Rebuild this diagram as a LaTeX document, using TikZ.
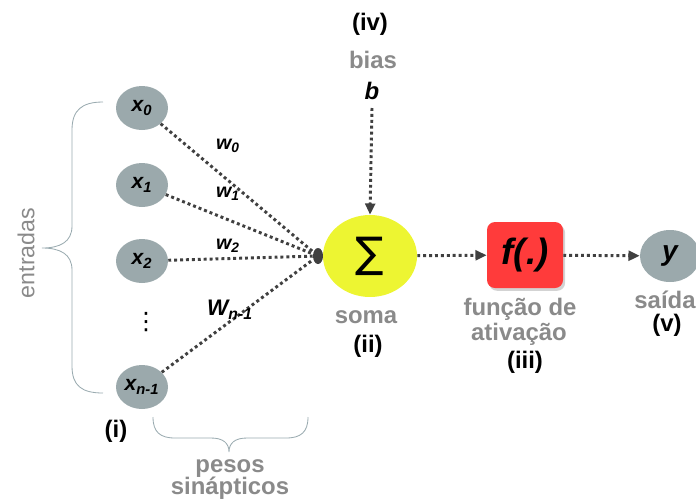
\documentclass[tikz,border=0pt]{standalone}
\usepackage{fontspec}
\setmainfont{Liberation Sans}
\newfontfamily\symfont{DejaVu Sans}
\usetikzlibrary{shapes.geometric,arrows.meta,shadows}
\definecolor{nodegrey}{HTML}{9BA9AC}
\definecolor{labelgrey}{HTML}{8A8A8A}
\definecolor{bracegrey}{HTML}{9AABB0}
\definecolor{linkgrey}{HTML}{404040}
\definecolor{sumyellow}{HTML}{EDF532}
\definecolor{actred}{HTML}{FF3B3B}

\def\pxu{0.025cm}  % one reference pixel

\tikzset{
  inputnode/.style={ellipse, fill=nodegrey, inner sep=0pt,
    minimum width=52*\pxu, minimum height=44*\pxu,
    font=\fontsize{15}{15}\selectfont\bfseries\itshape},
  greylbl/.style={text=labelgrey, anchor=base, inner sep=0pt,
    font=\fontsize{17}{17}\selectfont\bfseries},
  tag/.style={text=black, anchor=base, inner sep=0pt,
    font=\fontsize{17}{17}\selectfont\bfseries},
  wlbl/.style={inner sep=0pt, font=\fontsize{14}{14}\selectfont\bfseries\itshape},
  link/.style={draw=linkgrey, line width=2.1pt, dash pattern=on 2.1pt off 2.1pt},
  flow/.style={link, -{Triangle[length=8pt, width=7pt]}},
  brace/.style={draw=bracegrey, line width=0.6pt}
}

\begin{document}
\begin{tikzpicture}[x=\pxu, y=-\pxu]

  \useasboundingbox (0,0) rectangle (696,502);

  % === Inputs ===
  \node[inputnode] (x0) at (142,108) {x\textsubscript{0}};
  \node[inputnode] (x1) at (142,185) {x\textsubscript{1}};
  \node[inputnode] (x2) at (142,261) {x\textsubscript{2}};
  \node[inputnode] (xn) at (142,387) {x\textsubscript{n-1}};
  \node[inner sep=0pt, font=\fontsize{17}{17}\symfont] (dots) at (146,322) {⋮};

  % left brace
  \draw[brace] (103,102) .. controls (82,102) and (72,110) .. (72,130)
    -- (72,226) .. controls (72,242) and (60,248) .. (42,248)
    .. controls (60,248) and (72,254) .. (72,270)
    -- (72,366) .. controls (72,386) and (82,393) .. (103,393);
  \node[text=labelgrey, rotate=90, inner sep=0pt,
    font=\fontsize{16.5}{16.5}\selectfont] (inlbl) at (26,253) {entradas};

  % === Weights ===
  \node[fill=linkgrey, ellipse, inner sep=0pt, minimum width=10*\pxu,
    minimum height=16*\pxu] (junc) at (318,256) {};
  \foreach \n in {x0,x1,x2,xn}
    \draw[link] (\n) -- (junc);
  \node[wlbl] (w0) at (228,146) {w\textsubscript{0}};
  \node[wlbl] (w1) at (228,194) {w\textsubscript{1}};
  \node[wlbl] (w2) at (228,246) {w\textsubscript{2}};
  \node[wlbl, font=\fontsize{16}{16}\selectfont\bfseries\itshape] (wn) at (230,310) {W\textsubscript{n-1}};

  % bottom brace
  \draw[brace] (153,417) .. controls (153,432) and (160,438) .. (175,438)
    -- (211,438) .. controls (223,438) and (229,443) .. (229,452)
    .. controls (229,443) and (235,438) .. (247,438)
    -- (286,438) .. controls (301,438) and (308,432) .. (308,417);
  \node[greylbl] (wlbla) at (230,472) {pesos};
  \node[greylbl] (wlblb) at (230,494) {sinápticos};
  \node[tag] (tagi) at (116,437) {(i)};

  % === Sum and bias ===
  \node[ellipse, fill=sumyellow, inner sep=0pt, minimum width=94*\pxu,
    minimum height=82*\pxu, font=\fontsize{30}{30}\symfont] (sum) at (370,256) {∑};
  \node[inner sep=0pt, font=\fontsize{17}{17}\selectfont\bfseries\itshape] (b) at (372,91) {b};
  \node[greylbl] (biaslbl) at (373,68) {bias};
  \node[tag] (tagiv) at (370,30) {(iv)};
  \coordinate (bstart) at (372,108);
  \draw[flow] (bstart) -- (sum.north);
  \node[greylbl] (sumlbl) at (366,323) {soma};
  \node[tag] (tagii) at (368,352) {(ii)};

  % === Activation ===
  \node[rounded corners=8*\pxu, fill=actred, inner sep=0pt,
    minimum width=76*\pxu, minimum height=66*\pxu,
    drop shadow={shadow xshift=1.5pt, shadow yshift=-2pt, opacity=0.35},
    font=\fontsize{26}{26}\selectfont\bfseries\itshape] (act) at (525,255) {f(.)};
  \draw[flow] (sum) -- (act);
  \node[greylbl] (actlbla) at (520,315) {função de};
  \node[greylbl] (actlblb) at (519,340) {ativação};
  \node[tag] (tagiii) at (525,368) {(iii)};

  % === Output ===
  \node[inputnode, minimum width=60*\pxu, minimum height=52*\pxu,
    font=\fontsize{20}{20}\selectfont\bfseries\itshape] (y) at (670,256) {y};
  \draw[flow] (act) -- (y);
  \node[greylbl] (outlbl) at (665,308) {saída};
  \node[tag] (tagv) at (667,331) {(v)};

\end{tikzpicture}
\end{document}
